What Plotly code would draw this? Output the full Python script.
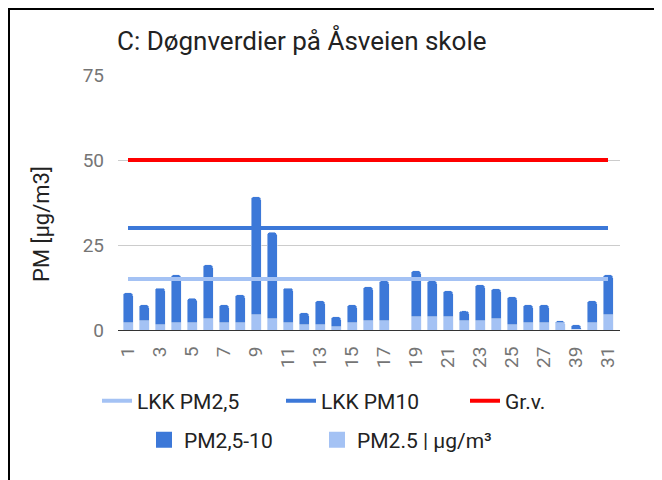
import plotly.graph_objects as go

# ---- data ----
days = ["1", "2", "3", "4", "5", "6", "7", "8", "9", "10", "11", "12", "13", "14", "15",
        "16", "17", "18", "19", "20", "21", "22", "23", "24", "25", "26", "27", "28",
        "39", "30", "31"]
pm25 = [2.1, 2.7, 1.6, 2.1, 2.1, 3.3, 2.1, 2.1, 4.5, 3.3, 2.1, 1.6, 1.6, 1.0, 2.1,
        2.7, 2.7, None, 3.9, 3.9, 3.9, 2.7, 2.7, 3.3, 1.6, 2.1, 2.1, 2.1,
        0.2, 2.1, 4.5]
pm_total = [11.0, 7.4, 12.3, 16.3, 9.3, 19.2, 7.4, 10.4, 39.2, 28.7, 12.3, 5.1, 8.6, 3.9, 7.4,
            12.7, 14.5, None, 17.4, 14.5, 11.6, 5.6, 13.3, 12.2, 9.8, 7.4, 7.4, 2.7,
            1.6, 8.6, 16.3]
pm25_10 = [None if t is None else round(t - p, 2) for t, p in zip(pm_total, pm25)]
lkk_pm25 = [15] * len(days)
lkk_pm10 = [30] * len(days)
grense = [50] * len(days)
y_ticks = [0, 25, 50, 75]

DARK = "#3c78d8"
LIGHT = "#a4c2f4"
RED = "#ff0000"
FONT = "Roboto"

# The page body has an 8px margin, so the figure is placed at (8, 8).
OFF = 8
FW, FH = 662 - OFF, 480 - OFF

fig = go.Figure()

# bars (stacked)
fig.add_trace(go.Bar(x=days, y=pm25, marker_color=LIGHT, showlegend=False, name="PM2.5 | µg/m³"))
fig.add_trace(go.Bar(x=days, y=pm25_10, marker_color=DARK, showlegend=False, name="PM2,5-10"))

# lines
fig.add_trace(go.Scatter(x=days, y=lkk_pm25, mode="lines", line=dict(color=LIGHT, width=4),
                         name="LKK PM2,5", legend="legend"))
fig.add_trace(go.Scatter(x=days, y=lkk_pm10, mode="lines", line=dict(color=DARK, width=4),
                         name="LKK PM10", legend="legend"))
fig.add_trace(go.Scatter(x=days, y=grense, mode="lines", line=dict(color=RED, width=4),
                         name="Gr.v.", legend="legend"))

# legend-only entries for bars (larger square symbols)
fig.add_trace(go.Scatter(x=[None], y=[None], mode="markers",
                         marker=dict(symbol="square", size=16, color=DARK),
                         name="PM2,5-10", legend="legend2"))
fig.add_trace(go.Scatter(x=[None], y=[None], mode="markers",
                         marker=dict(symbol="square", size=16, color=LIGHT),
                         name="PM2.5 | µg/m³", legend="legend3"))

# plot area in screen pixels -> figure pixels
L, R, T, B = 118 - OFF, 620 - OFF, 75 - OFF, 330 - OFF
W, H = R - L, B - T

def px_x(sx):
    return (sx - OFF - L) / W

def px_y(sy):
    return (B - (sy - OFF)) / H

legend_font = dict(size=21, color="#222222", family=FONT)

fig.update_layout(
    width=FW, height=FH,
    margin=dict(l=L, r=FW - R, t=T, b=FH - B, autoexpand=False),
    paper_bgcolor="white", plot_bgcolor="white",
    barmode="stack", bargap=0.375, barcornerradius=3,
    font=dict(family=FONT, color="#222222"),
    title=dict(text="C: Døgnverdier på Åsveien skole", xref="container", x=(117 - OFF) / FW,
               xanchor="left", yref="container", y=1 - (41 - OFF) / FH, yanchor="middle",
               font=dict(size=26, color="#222222", family=FONT)),
    xaxis=dict(type="category", range=[-0.625, 30.75], tickmode="linear", tick0=0, dtick=2,
               tickangle=-90, tickfont=dict(size=19, color="#757575"),
               showgrid=False, showline=True, linecolor="#333333", linewidth=1,
               ticks="", ticklabelstandoff=8, fixedrange=True),
    yaxis=dict(range=[0, 75], tickvals=y_ticks, tickfont=dict(size=19, color="#757575"),
               showgrid=True, gridcolor="#cccccc", gridwidth=1, zeroline=False,
               ticks="", ticklabelstandoff=13, fixedrange=True),
    annotations=[dict(text="PM [µg/m3]", textangle=-90, xref="paper", yref="paper",
                      x=px_x(42), y=px_y(224), xanchor="center", yanchor="middle",
                      showarrow=False, font=dict(size=22, color="#222222", family=FONT))],
    legend=dict(orientation="h", xref="paper", x=px_x(97), xanchor="left",
                yref="paper", y=px_y(401), yanchor="middle",
                font=legend_font, itemwidth=30, traceorder="normal",
                entrywidth=139, entrywidthmode="pixels"),
    legend2=dict(orientation="h", xref="paper", x=px_x(144), xanchor="left",
                 yref="paper", y=px_y(440), yanchor="middle",
                 font=legend_font, itemwidth=30),
    legend3=dict(orientation="h", xref="paper", x=px_x(317), xanchor="left",
                 yref="paper", y=px_y(440), yanchor="middle",
                 font=legend_font, itemwidth=30),
    shapes=[
        dict(type="line", xref="paper", yref="paper", x0=px_x(8), x1=px_x(700),
             y0=px_y(9), y1=px_y(9), line=dict(color="black", width=2)),
        dict(type="line", xref="paper", yref="paper", x0=px_x(9), x1=px_x(9),
             y0=px_y(8), y1=px_y(520), line=dict(color="black", width=2)),
    ],
)

fig.write_html("out.html")
